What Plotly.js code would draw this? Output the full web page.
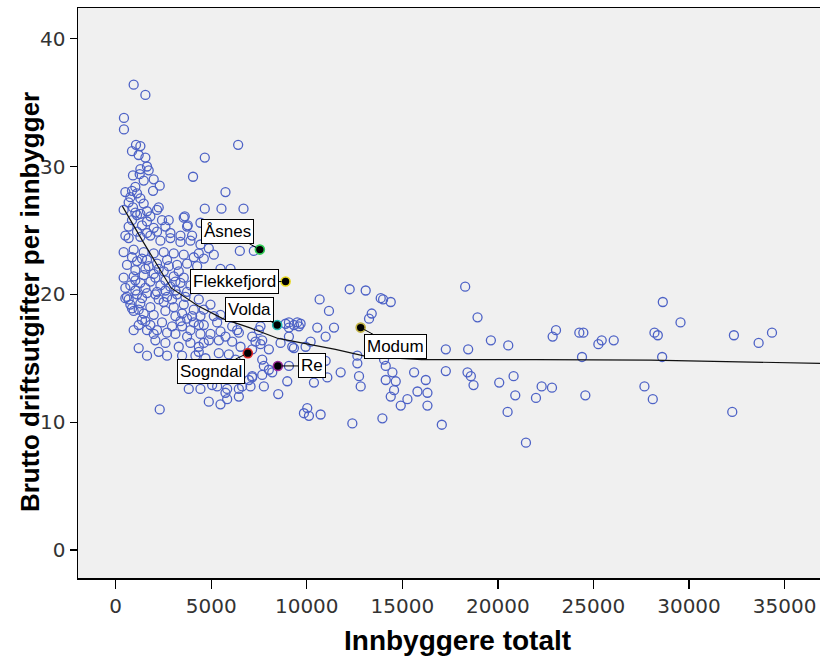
<!DOCTYPE html>
<html>
<head>
<meta charset="utf-8">
<script src="https://cdn.plot.ly/plotly-3.0.1.min.js"></script>
<style>html,body{margin:0;padding:0;background:#fff}#chart{width:820px;height:659px}</style>
</head>
<body>
<div id="chart"></div>
<script>
// Municipalities: population (Innbyggere totalt) and gross operating costs per inhabitant
const popX = [
943,1556,435,435,6410,4664,4050,5747,4664,5537,6690,4438,3616,3773,6498,7231,4350,4874,
1065,1294,855,1205,1556,1294,1640,1729,907,1258,1991,2306,1956,1467,508,855,1118,769,1294,907,2253,2165,1031,1294,1640,3563,2777,2427,855,1640,2602,3737,508,1118,1640,2165,2866,3390,3999,
681,1293,1817,2341,2865,3389,3913,4437,
419,943,1467,1991,2516,3040,3564,4088,4612,5136,
594,1118,1642,2166,2690,3214,3738,4263,
419,943,1467,1991,2516,3040,3564,5486,6010,
769,1293,1817,2341,2865,3389,3913,
594,1118,1642,2166,2690,3214,3738,
769,1293,1817,2516,3040,3564,4088,4612,
943,1467,1991,2603,3127,3738,4437,5136,5486,
1817,2428,2952,3476,4088,4612,5311,
1991,2690,3127,3738,4437,4961,5486,6359,
1205,1642,2690,2079,2603,3302,4350,4874,5398,5747,3476,4175,4699,5398,5922,6271,7145,6970,6446,5747,5835,5485,4874,3826,4437,2306,6446,8508,8980,8194,7669,8018,8630,9241,9066,7145,6097,6446,7495,7669,
1031,507,856,1205,681,1380,943,1642,1205,
2254,3913,4612,6534,5049,5311,5835,4350,4961,
4349,7669,8018,7057,7756,
12246,13084,10673,13870,13993,14394,11162,13399,13259,9066,9328,9503,9590,10551,11425,10988,10202,6097,9066,10988,11774,12647,12735,12822,14132,14132,14482,14656,15617,15792,16228,16315,
8891,9677,9066,7580,9328,9939,7580,7144,7318,7755,10376,11075,12647,10026,9852,10114,10725,12385,13957,7144,6620,14044,
18289,18936,19634,20543,17276,18446,22866,23041,14394,14568,15267,14917,16315,17276,18411,18586,18726,20071,20822,20910,20508,21469,17066,21993,22290,22831,
24262,24472,25258,25433,26062,24402,24577,27669,28106,28193,28368,28630,29556,28595,32351,32264,33644,34343,
856,1380,1729,2254,2778,3302,1031,1555,2079,2603,3127,507,1031,1555,2079,2603,3127,3651,1380,2254,2952,3477,4001,1555,2166,3389,3913,4350,
681,1467,1118,1817,681,1380,1992,1031,419
];
const costY = [
36.4,35.6,33.8,32.9,31.7,30.7,29.2,28.0,26.7,26.7,26.7,25.6,26.1,25.4,23.4,23.4,23.2,23.6,
31.7,31.6,31.2,30.9,30.7,29.8,30.0,29.7,29.3,29.4,29.0,28.5,28.1,28.9,28.0,28.1,27.9,27.6,27.5,26.8,26.8,26.6,26.4,26.3,26.5,26.0,25.8,25.8,25.8,25.7,25.3,25.3,24.6,24.9,24.8,24.9,24.8,24.6,24.6,
24.4,24.5,24.6,24.2,24.4,24.1,24.2,23.9,
23.3,23.5,23.3,23.2,23.3,23.2,23.1,22.9,22.8,23.1,
22.3,22.6,22.7,22.4,22.7,22.3,22.4,22.2,
21.3,21.4,21.5,21.6,21.8,21.4,21.3,22.0,22.0,
20.7,20.9,21.0,20.7,20.6,20.9,20.7,
19.8,20.0,20.1,20.2,19.8,20.0,20.2,
19.2,19.3,19.0,19.4,19.0,19.2,18.8,18.8,
18.7,18.5,18.4,18.7,18.3,18.1,18.3,18.3,18.4,
17.6,17.8,17.5,17.5,17.8,17.6,17.8,
16.9,17.0,16.9,16.7,16.9,16.9,17.1,17.2,
15.8,15.2,15.2,16.4,16.2,15.9,15.9,16.4,16.4,16.7,15.2,15.2,15.0,15.4,15.3,14.9,13.6,13.3,12.0,12.3,11.8,11.4,11.6,12.6,12.6,11.0,12.6,12.2,13.2,13.9,14.9,15.7,16.2,15.9,16.7,16.7,17.5,17.0,17.2,16.4,
21.1,19.7,18.9,18.8,19.6,18.0,17.2,17.2,17.6,
15.5,16.2,16.2,15.9,12.9,12.8,12.6,19.6,19.2,
15.5,13.7,14.1,12.8,12.8,
20.4,20.3,19.6,19.7,19.6,19.4,18.7,18.5,18.1,17.8,17.6,17.8,17.5,17.4,17.4,16.7,16.3,16.3,14.4,14.8,13.9,14.6,13.6,12.8,14.4,13.3,13.9,13.2,13.9,12.4,13.3,12.3,
17.7,17.7,17.4,17.5,15.8,15.9,16.1,15.7,16.3,14.4,13.1,13.5,15.2,11.1,10.7,10.5,10.6,9.9,10.3,13.5,12.8,14.9,
20.6,18.2,16.4,16.0,15.7,15.7,16.7,17.2,12.0,12.5,11.8,11.3,11.3,14.0,13.9,13.6,12.9,13.1,13.6,12.1,10.8,8.4,9.8,11.9,12.8,12.7,
17.0,17.0,16.1,16.4,16.4,15.1,12.1,12.8,11.8,17.0,16.8,19.4,17.8,15.1,16.8,10.8,16.2,17.0,
22.9,22.8,22.2,22.0,22.2,21.8,21.9,22.0,21.3,21.1,21.0,20.5,20.3,20.5,20.0,20.3,20.3,19.8,19.7,19.6,19.6,18.5,18.3,17.9,17.2,17.9,17.2,17.6,
27.2,27.1,26.2,26.1,25.3,25.4,25.2,28.4,26.6
];

// Loess fit line
const fitX = [350, 1400, 2900, 4300, 5600, 7000, 8500, 10000, 11500, 13100, 16000, 22000, 28000, 37000];
const fitY = [26.9, 24.2, 20.5, 19.1, 18.1, 17.4, 16.55, 16.1, 15.7, 15.15, 14.9, 14.9, 14.85, 14.6];

// Highlighted municipalities
const hiNames = ["Åsnes", "Flekkefjord", "Volda", "Modum", "Sogndal", "Re"];
const hiX = [7546, 8892, 8452, 12821, 6917, 8489];
const hiY = [23.5, 21.0, 17.6, 17.4, 15.4, 14.4];
const hiEdge = ["#2ecc55", "#e8d81a", "#22b8b0", "#bfb040", "#e02828", "#9a2a9a"];
const hiAx = [-32, -51, -28, 35, -37, 34];
const hiAy = [-18, 0, -16, 19, 18, 0];

const xTicks = [0, 5000, 10000, 15000, 20000, 25000, 30000, 35000];
const yTicks = [0, 10, 20, 30, 40];
const xTitle = "Innbyggere totalt";
const yTitle = "Brutto driftsutgifter per innbygger";

const tickFam = "DejaVu Sans, sans-serif";
const titleFam = "Liberation Sans, Arial, sans-serif";

const traces = [
  {
    x: popX, y: costY, type: "scatter", mode: "markers",
    marker: {symbol: "circle-open", size: 9, color: "#4d62c6", line: {width: 1.3, color: "#4d62c6"}},
    hoverinfo: "x+y", showlegend: false
  },
  {
    x: fitX, y: fitY, type: "scatter", mode: "lines",
    line: {color: "#111", width: 1.2}, hoverinfo: "skip", showlegend: false
  },
  {
    x: hiX, y: hiY, text: hiNames, type: "scatter", mode: "markers",
    marker: {symbol: "circle", size: 9, color: "#000", line: {width: 1.6, color: hiEdge}},
    hoverinfo: "text+x+y", showlegend: false
  }
];

const annotations = hiNames.map((n, i) => ({
  x: hiX[i], y: hiY[i], xref: "x", yref: "y",
  text: n, showarrow: true, arrowhead: 0, arrowwidth: 1, arrowcolor: "#000",
  ax: hiAx[i], ay: hiAy[i], standoff: 4,
  bgcolor: "#fff", bordercolor: "#000", borderwidth: 1, borderpad: 2,
  font: {family: "Liberation Sans, Arial, sans-serif", size: 17, color: "#000"}
}));

// Axis titles as annotations for precise placement
annotations.push({
  text: yTitle, xref: "paper", yref: "paper", x: -0.0647, y: 0.484,
  xanchor: "center", yanchor: "middle", textangle: -90, showarrow: false,
  font: {family: titleFam, size: 26, color: "#000", weight: "bold"}
});
annotations.push({
  text: xTitle, xref: "paper", yref: "paper", x: 0.511, y: -0.109,
  xanchor: "center", yanchor: "middle", showarrow: false,
  font: {family: titleFam, size: 28, color: "#000", weight: "bold"}
});

const layout = {
  width: 820, height: 659,
  margin: {l: 78, r: 0, t: 8, b: 81},
  paper_bgcolor: "#fff", plot_bgcolor: "#f0f0f0",
  showlegend: false,
  xaxis: {
    range: [-1970, 36855], tickvals: xTicks, ticktext: xTicks.map(String),
    showgrid: false, zeroline: false,
    showline: true, linecolor: "#000", linewidth: 1.5, mirror: true,
    ticks: "outside", ticklen: 9, tickwidth: 1.3, tickcolor: "#000",
    tickfont: {family: tickFam, size: 20, color: "#333"}
  },
  yaxis: {
    range: [-2.19, 42.4], tickvals: yTicks, ticktext: yTicks.map(String),
    showgrid: false, zeroline: false,
    showline: true, linecolor: "#000", linewidth: 1.5,
    ticks: "outside", ticklen: 7, tickwidth: 1.3, tickcolor: "#000",
    tickfont: {family: tickFam, size: 20, color: "#333"}
  },
  annotations: annotations
};

Plotly.newPlot("chart", traces, layout, {displayModeBar: false, staticPlot: true});
</script>
</body>
</html>
